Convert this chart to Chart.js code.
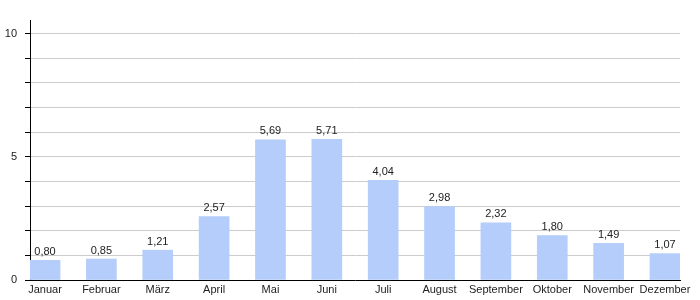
<!DOCTYPE html>
<html>
<head>
<meta charset="utf-8">
<script src="https://cdn.jsdelivr.net/npm/chart.js@4"></script>
<style>
html,body{margin:0;padding:0;background:#fff;}
#wrap{width:700px;height:300px;position:relative;}
</style>
</head>
<body>
<div id="wrap"><canvas id="c" width="700" height="300"></canvas></div>
<script>
const categories = ["Januar","Februar","März","April","Mai","Juni","Juli","August","September","Oktober","November","Dezember"];
const values = [0.80,0.85,1.21,2.57,5.69,5.71,4.04,2.98,2.32,1.80,1.49,1.07];
const yTickLabels = [0,5,10];

const fmt = v => v.toFixed(2).replace('.', ',');

const labelPlugin = {
  id: 'valueLabels',
  afterDatasetsDraw(chart) {
    const ctx = chart.ctx;
    const meta = chart.getDatasetMeta(0);
    ctx.save();
    ctx.font = '11px "Liberation Sans", Arial, sans-serif';
    ctx.fillStyle = '#222';
    ctx.textAlign = 'center';
    ctx.textBaseline = 'bottom';
    meta.data.forEach((bar, i) => {
      ctx.fillText(fmt(values[i]), bar.x, bar.y - 3);
    });
    ctx.restore();
  }
};

new Chart(document.getElementById('c'), {
  type: 'bar',
  data: {
    datasets: [{
      data: values.map((v, i) => ({x: i, y: v})),
      backgroundColor: '#b4cdfa',
      borderWidth: 0,
      barThickness: 30
    }]
  },
  options: {
    responsive: false,
    animation: false,
    layout: {padding: {top: 20, right: 20, left: 0, bottom: 0}},
    plugins: {legend: {display: false}, tooltip: {enabled: false}},
    scales: {
      x: {
        type: 'linear',
        offset: false,
        min: -0.2666,
        max: 11.2666,
        afterBuildTicks(scale) { scale.ticks = categories.map((c, i) => ({value: i})); },
        afterFit(scale) { scale.height = 20; },
        grid: {display: false, drawTicks: false},
        border: {color: '#000', width: 1},
        ticks: {
          padding: 3,
          maxRotation: 0,
          autoSkip: false,
          color: '#222',
          font: {family: '"Liberation Sans", Arial, sans-serif', size: 11},
          callback: v => categories[v]
        }
      },
      y: {
        min: 0,
        max: 10.55,
        afterBuildTicks(scale) {
          const t = [];
          for (let i = 0; i <= 10; i++) t.push({value: i});
          scale.ticks = t;
        },
        afterFit(scale) { scale.width = 30; },
        grid: {color: '#cccccc', tickColor: '#000', tickLength: 5},
        border: {color: '#000', width: 1},
        ticks: {
          padding: 8,
          color: '#222',
          font: {family: '"Liberation Sans", Arial, sans-serif', size: 11},
          callback: v => yTickLabels.includes(v) ? String(v) : ''
        }
      }
    }
  },
  plugins: [labelPlugin]
});
</script>
</body>
</html>
